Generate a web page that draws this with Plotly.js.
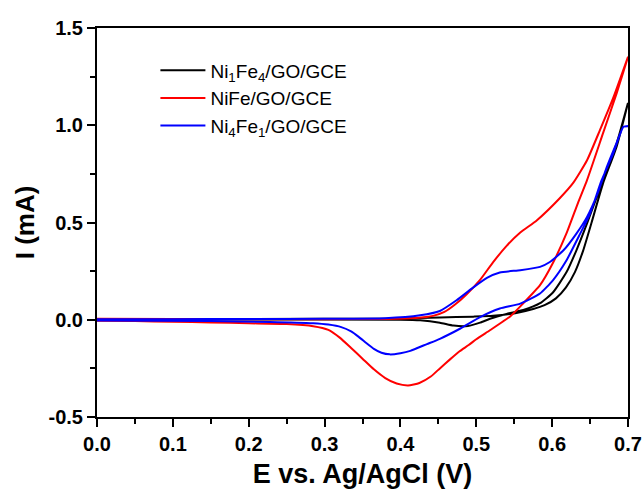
<!DOCTYPE html>
<html>
<head>
<meta charset="utf-8">
<script src="https://cdn.plot.ly/plotly-3.0.1.min.js"></script>
<style>html,body{margin:0;padding:0;background:#fff;}#chart{width:644px;height:490px;}</style>
</head>
<body>
<div id="chart"></div>
<script>
// Series names
const seriesNames = ["Ni<sub>1</sub>Fe<sub>4</sub>/GO/GCE", "NiFe/GO/GCE", "Ni<sub>4</sub>Fe<sub>1</sub>/GO/GCE"];
const seriesColors = ["#000000", "#ff0000", "#0000ff"];

// Ni1Fe4/GO/GCE (black) - forward and reverse scans
const blackFwdE = [0, 0.2, 0.4, 0.452, 0.496, 0.522, 0.553, 0.575, 0.590, 0.605, 0.618, 0.630, 0.641, 0.652, 0.667, 0.685, 0.70];
const blackFwdI = [0.003, 0.004, 0.006, 0.012, 0.016, 0.020, 0.035, 0.055, 0.075, 0.110, 0.165, 0.245, 0.357, 0.500, 0.700, 0.890, 1.115];
const blackRevE = [0.70, 0.685, 0.667, 0.646, 0.632, 0.619, 0.601, 0.584, 0.562, 0.540, 0.518, 0.505, 0.489, 0.470, 0.452, 0.426, 0.40, 0.2, 0];
const blackRevI = [1.115, 0.906, 0.718, 0.495, 0.357, 0.245, 0.140, 0.085, 0.050, 0.030, 0.005, -0.015, -0.032, -0.030, -0.015, -0.003, 0.000, 0.001, 0.001];

// NiFe/GO/GCE (red)
const redFwdE = [0, 0.1, 0.2, 0.3, 0.38, 0.42, 0.443, 0.458, 0.472, 0.487, 0.505, 0.522, 0.540, 0.558, 0.580, 0.610, 0.628, 0.646, 0.663, 0.681, 0.70];
const redFwdI = [0.005, 0.004, 0.003, 0.003, 0.004, 0.009, 0.020, 0.040, 0.078, 0.130, 0.205, 0.295, 0.380, 0.448, 0.512, 0.625, 0.705, 0.820, 0.975, 1.146, 1.352];
const redRevE = [0.70, 0.685, 0.667, 0.646, 0.634, 0.619, 0.601, 0.584, 0.562, 0.545, 0.518, 0.500, 0.490, 0.478, 0.465, 0.452, 0.440, 0.425, 0.410, 0.395, 0.380, 0.365, 0.350, 0.335, 0.320, 0.305, 0.285, 0.25, 0.2, 0.15, 0.1, 0.05, 0];
const redRevI = [1.352, 1.164, 0.958, 0.718, 0.600, 0.445, 0.292, 0.178, 0.085, 0.018, -0.054, -0.100, -0.130, -0.162, -0.205, -0.250, -0.292, -0.325, -0.338, -0.328, -0.300, -0.255, -0.200, -0.145, -0.092, -0.052, -0.033, -0.022, -0.018, -0.014, -0.010, -0.007, -0.005];

// Ni4Fe1/GO/GCE (blue)
const blueFwdE = [0, 0.1, 0.2, 0.3, 0.38, 0.426, 0.452, 0.474, 0.494, 0.514, 0.531, 0.558, 0.584, 0.597, 0.615, 0.632, 0.646, 0.660, 0.672, 0.685, 0.694, 0.70];
const blueFwdI = [0.003, 0.003, 0.004, 0.005, 0.008, 0.023, 0.045, 0.100, 0.160, 0.215, 0.243, 0.255, 0.272, 0.297, 0.357, 0.443, 0.529, 0.650, 0.785, 0.910, 0.992, 0.995];
const blueRevE = [0.70, 0.694, 0.680, 0.665, 0.650, 0.637, 0.619, 0.601, 0.584, 0.558, 0.531, 0.505, 0.479, 0.452, 0.435, 0.413, 0.400, 0.386, 0.375, 0.365, 0.355, 0.345, 0.335, 0.322, 0.305, 0.285, 0.228, 0.15, 0];
const blueRevI = [0.995, 0.992, 0.850, 0.715, 0.546, 0.443, 0.306, 0.203, 0.135, 0.083, 0.058, 0.014, -0.045, -0.098, -0.125, -0.160, -0.172, -0.178, -0.170, -0.150, -0.120, -0.088, -0.060, -0.038, -0.025, -0.018, -0.011, -0.007, -0.004];

const xTickVals = [0, 0.1, 0.2, 0.3, 0.4, 0.5, 0.6, 0.7];
const xTickText = ["0.0", "0.1", "0.2", "0.3", "0.4", "0.5", "0.6", "0.7"];
const yTickVals = [-0.5, 0, 0.5, 1.0, 1.5];
const yTickText = ["-0.5", "0.0", "0.5", "1.0", "1.5"];

const loops = [
  [blackFwdE, blackFwdI, blackRevE, blackRevI],
  [redFwdE, redFwdI, redRevE, redRevI],
  [blueFwdE, blueFwdI, blueRevE, blueRevI]
];

const traces = loops.map((l, i) => ({
  x: l[0].concat(l[2]),
  y: l[1].concat(l[3]),
  type: 'scatter',
  mode: 'lines',
  name: seriesNames[i],
  line: {color: seriesColors[i], width: 2, shape: 'spline', smoothing: 0.5},
  cliponaxis: true
}));

const fontFam = 'Arial, "Liberation Sans", sans-serif';
const layout = {
  width: 644, height: 490,
  margin: {l: 97, r: 16, t: 28, b: 73},
  paper_bgcolor: '#ffffff', plot_bgcolor: '#ffffff',
  showlegend: true,
  legend: {
    x: 0.11, y: 0.94, xanchor: 'left', yanchor: 'top',
    bgcolor: 'rgba(0,0,0,0)', borderwidth: 0,
    font: {family: fontFam, size: 19, color: '#000'},
    itemwidth: 45, tracegroupgap: 0
  },
  xaxis: {
    range: [0, 0.7], tickmode: 'array', tickvals: xTickVals, ticktext: xTickText,
    ticks: 'outside', ticklen: 8, tickwidth: 2, tickcolor: '#000',
    showline: true, linewidth: 2, linecolor: '#000', mirror: true,
    showgrid: false, zeroline: false,
    tickfont: {family: fontFam, size: 20, color: '#000', weight: 'bold'},
    minor: {tickvals: [0.05, 0.15, 0.25, 0.35, 0.45, 0.55, 0.65], ticks: 'outside', ticklen: 5, tickwidth: 2, tickcolor: '#000', showgrid: false},
    title: {text: 'E vs. Ag/AgCl (V)', font: {family: fontFam, size: 27, color: '#000', weight: 'bold'}, standoff: 10}
  },
  yaxis: {
    range: [-0.5, 1.5], tickmode: 'array', tickvals: yTickVals, ticktext: yTickText,
    ticks: 'outside', ticklen: 8, tickwidth: 2, tickcolor: '#000',
    showline: true, linewidth: 2, linecolor: '#000', mirror: true,
    showgrid: false, zeroline: false,
    tickfont: {family: fontFam, size: 20, color: '#000', weight: 'bold'},
    minor: {tickvals: [-0.25, 0.25, 0.75, 1.25], ticks: 'outside', ticklen: 5, tickwidth: 2, tickcolor: '#000', showgrid: false},
    title: {text: 'I (mA)', font: {family: fontFam, size: 26, color: '#000', weight: 'bold'}, standoff: 6}
  }
};

Plotly.newPlot('chart', traces, layout, {displayModeBar: false, staticPlot: true});
</script>
</body>
</html>
